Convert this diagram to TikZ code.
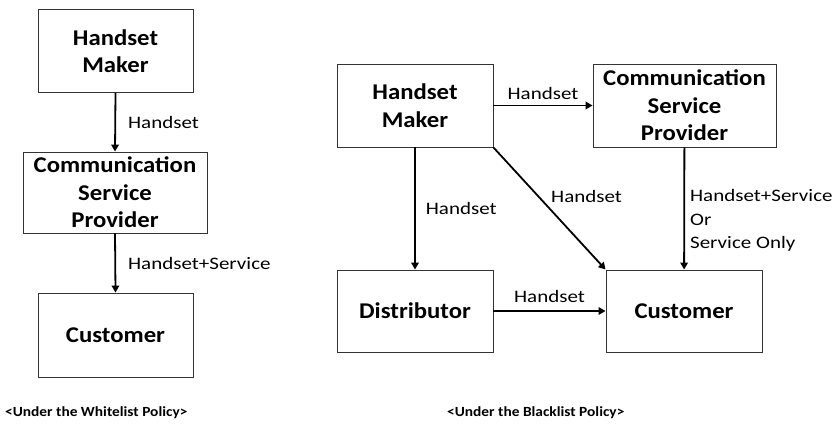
\documentclass[tikz,border=0pt]{standalone}
\usepackage{fontspec}
\setmainfont{Carlito}[FakeStretch=1.2]
\newfontfamily\boxfont{Carlito}[FakeStretch=1.1]
\usetikzlibrary{arrows.meta}

\begin{document}
\begin{tikzpicture}[x=1pt,y=-1pt,
	box/.style={draw=black!80,line width=0.9pt,align=center,inner sep=0pt,
		font=\boxfont\fontsize{22.5}{27.5}\selectfont\bfseries},
	flow/.style={line width=1.8pt,-{Triangle[width=7.5pt,length=7pt]}},
	lbl/.style={font=\fontsize{17.5}{23.5}\selectfont,inner sep=0pt},
	policy/.style={font=\boxfont\fontsize{14}{16}\selectfont\bfseries,anchor=west,inner sep=0pt}]
\useasboundingbox (0,0) rectangle (833,424);
\node[box,minimum width=155pt,minimum height=83pt] (maker) at (115.5,51) {Handset\\Maker};
\node[box,minimum width=184pt,minimum height=81pt] (csp) at (115,192.5) {Communication\\Service\\Provider};
\node[box,minimum width=155pt,minimum height=84pt] (cust) at (115.5,335) {Customer};
\draw[flow] (maker.south) -- node[lbl,right=12pt] {Handset} (csp.north);
\draw[flow] (csp.south) -- node[lbl,right=12pt] {Handset+Service} (cust.north);
\node[policy] (white) at (5,413) {<Under the Whitelist Policy>};

\node[box,minimum width=156pt,minimum height=83pt] (bmaker) at (415,105.5) {Handset\\Maker};
\node[box,minimum width=183pt,minimum height=83pt] (bcsp) at (684.5,105.5) {Communication\\Service\\Provider};
\node[box,minimum width=156pt,minimum height=82pt] (dist) at (415,311) {Distributor};
\node[box,minimum width=156pt,minimum height=82pt] (bcust) at (684,311) {Customer};
\draw[flow] (bmaker) -- node[lbl,above=5pt] {Handset} (bcsp);
\draw[flow] (bmaker) -- node[lbl,right=10pt] {Handset} (dist);
\draw[flow] (bmaker.south east) -- node[lbl,pos=0.4,right=12pt] {Handset} (bcust.north west);
\draw[flow] (bcsp) -- node[lbl,pos=0.6,right=5pt,align=left] {Handset+Service\\Or\\Service Only} (bcust);
\draw[flow] (dist) -- node[lbl,above=7pt] {Handset} (bcust);
\node[policy] (black) at (447,413) {<Under the Blacklist Policy>};
\end{tikzpicture}
\end{document}
